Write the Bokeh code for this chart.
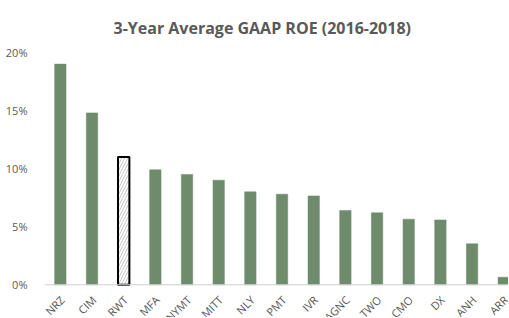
import numpy as np
from bokeh.plotting import figure
from bokeh.models import (Range1d, FixedTicker, NumeralTickFormatter,
                          ColumnDataSource, Span)
from bokeh.core.properties import value
from bokeh.embed import file_html
from bokeh.resources import INLINE

tickers = ["NRZ", "CIM", "RWT", "MFA", "NYMT", "MITT", "NLY", "PMT", "IVR",
           "AGNC", "TWO", "CMO", "DX", "ANH", "ARR"]
roe = [0.190, 0.148, 0.110, 0.099, 0.095, 0.090, 0.080, 0.078, 0.0765,
       0.064, 0.062, 0.0565, 0.0558, 0.0353, 0.0065]
highlight = "RWT"
y_ticks = [0, 0.05, 0.10, 0.15, 0.20]

BAR = "#6e8c6c"
GRAY = "#595959"

x = [i + 0.5 for i in range(len(tickers))]
is_h = [t == highlight for t in tickers]
src = ColumnDataSource(dict(
    x=x, top=roe, zero=[0] * len(x), name=tickers,
    fill=["white" if h else BAR for h in is_h],
    line=["black" if h else BAR for h in is_h],
    lw=[2 if h else 0.5 for h in is_h],
    hatch=["/" if h else " " for h in is_h],
))

# frame: 0..20% occupies the top 234 px, the 33 px below hold the labels
p = figure(width=508, height=317, output_backend="svg", toolbar_location=None,
           x_range=Range1d(0, 14.65), y_range=Range1d(-0.2 * 33 / 234, 0.20),
           x_axis_location=None,
           min_border_left=44, min_border_right=0, min_border_top=50,
           min_border_bottom=0,
           title="3-Year Average GAAP ROE (2016-2018)")
p.outline_line_color = None
p.grid.visible = False

p.title.text_font = "Open Sans"
p.title.text_font_style = "bold"
p.title.text_font_size = "16px"
p.title.text_color = GRAY
p.title.align = "left"
p.title.offset = 69
p.title.standoff = 28

p.add_layout(Span(location=0, dimension="width", line_color="#d0d0d0",
                  line_width=1))

p.vbar(x="x", top="top", bottom="zero", width=0.36, source=src,
       fill_color="fill", line_color="line", line_width="lw",
       hatch_pattern="hatch", hatch_color="#c8c8c8", hatch_scale=6,
       hatch_weight=1)

p.text(x="x", y="zero", text="name", source=src, angle=np.pi / 4,
       text_align="right", text_baseline="middle", x_offset=2, y_offset=13,
       text_font=value("Open Sans"), text_font_size="11px", text_color=GRAY)

p.yaxis.ticker = FixedTicker(ticks=y_ticks)
p.yaxis.formatter = NumeralTickFormatter(format="0%")
p.yaxis.axis_line_color = None
p.yaxis.major_tick_line_color = None
p.yaxis.minor_tick_line_color = None
p.yaxis.major_label_standoff = 11
p.yaxis.major_label_text_font = "Open Sans"
p.yaxis.major_label_text_font_size = "11px"
p.yaxis.major_label_text_color = GRAY

open("out.html", "w").write(file_html(p, INLINE))
